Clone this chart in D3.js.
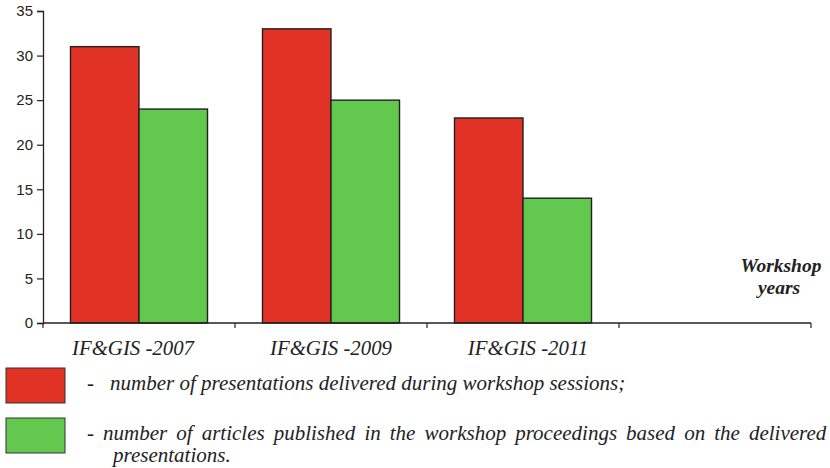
<!DOCTYPE html>
<html><head><meta charset="utf-8">
<script src="https://cdn.jsdelivr.net/npm/d3@7"></script>
<style>
body{margin:0;background:#fff}
.ser{font-family:'Liberation Serif';font-style:italic}
.bi{font-family:'Liberation Serif';font-style:italic;font-weight:bold}
.san{font-family:'Liberation Sans'}
</style>
</head><body>
<svg id="c" width="830" height="468"></svg>
<script>
const categories = ["IF&GIS -2007", "IF&GIS -2009", "IF&GIS -2011", ""];
const presentations = [31, 33, 23];
const articles = [24, 25, 14];
const yTicks = [0, 5, 10, 15, 20, 25, 30, 35];
const legendLabels = [
  "number of presentations delivered during workshop sessions;",
  "- number of articles published in the workshop proceedings based on the delivered",
  "presentations."
];
const colors = {red: "#e03325", green: "#62c84e"};

const svg = d3.select("#c");
const x = d3.scaleBand().domain(categories).range([43, 811]);
const y = d3.scaleLinear().domain([0, 35]).range([323, 11]);
const barW = 68.5;

// legend texts first
svg.append("text").attr("class", "ser").attr("x", 110).attr("y", 390).attr("font-size", 21)
  .attr("fill", "#222").text(legendLabels[0]);
svg.append("text").attr("class", "ser").attr("x", 87).attr("y", 390).attr("font-size", 21)
  .attr("fill", "#222").text("-");
svg.append("text").attr("class", "ser").attr("x", 87).attr("y", 440).attr("font-size", 21)
  .attr("word-spacing", 3.8).attr("fill", "#222").text(legendLabels[1]);
svg.append("text").attr("class", "ser").attr("x", 113).attr("y", 462).attr("font-size", 21)
  .attr("fill", "#222").text(legendLabels[2]);

// category labels
const xOff = [-6, 0, 5];
categories.slice(0, 3).forEach((d, i) => {
  svg.append("text").attr("class", "ser")
    .attr("x", x(d) + x.bandwidth() / 2 + xOff[i])
    .attr("y", 355).attr("text-anchor", "middle")
    .attr("font-size", 20.8).attr("fill", "#222").text(d);
});

// axis title
svg.append("text").attr("class", "bi").attr("x", 781).attr("y", 272).attr("text-anchor", "middle")
  .attr("font-size", 19.5).attr("fill", "#222").text("Workshop");
svg.append("text").attr("class", "bi").attr("x", 779).attr("y", 294).attr("text-anchor", "middle")
  .attr("font-size", 19.5).attr("fill", "#222").text("years");

// legend swatches
svg.append("rect").attr("x", 6).attr("y", 368).attr("width", 59).attr("height", 35)
  .attr("fill", colors.red).attr("stroke", "#333").attr("stroke-width", 1);
svg.append("rect").attr("x", 6).attr("y", 418).attr("width", 59).attr("height", 35)
  .attr("fill", colors.green).attr("stroke", "#333").attr("stroke-width", 1);

// bars
const data = categories.slice(0, 3).map((c, i) => ({c, p: presentations[i], a: articles[i]}));
const g = svg.append("g");
data.forEach(d => {
  const cx = x(d.c) + x.bandwidth() / 2;
  g.append("rect").attr("x", cx - barW).attr("y", y(d.p)).attr("width", barW)
    .attr("height", y(0) - y(d.p)).attr("fill", colors.red).attr("stroke", "#222").attr("stroke-width", 1.4);
  g.append("rect").attr("x", cx).attr("y", y(d.a)).attr("width", barW)
    .attr("height", y(0) - y(d.a)).attr("fill", colors.green).attr("stroke", "#222").attr("stroke-width", 1.4);
});

// x axis
const xa = svg.append("g").attr("transform", "translate(0,323)");
xa.append("line").attr("x1", 43).attr("x2", 811).attr("stroke", "#222").attr("stroke-width", 1.3);
const edges = categories.map(c => x(c)).concat([x.range()[1]]);
xa.selectAll("line.t").data(edges).join("line").attr("class", "t")
  .attr("x1", d => d).attr("x2", d => d).attr("y1", 0).attr("y2", 5)
  .attr("stroke", "#222").attr("stroke-width", 1.2);

// y axis
const ya = svg.append("g").attr("transform", "translate(43,0)")
  .call(d3.axisLeft(y).tickValues(yTicks).tickSize(6).tickPadding(4));
ya.attr("font-family", null).attr("font-size", null);
ya.select(".domain").attr("stroke", "#222").attr("stroke-width", 1.3);
ya.selectAll(".tick line").attr("stroke", "#222").attr("stroke-width", 1.2);
ya.selectAll("text").attr("class", "san").attr("font-size", 15).attr("fill", "#222");
</script>
</body></html>
